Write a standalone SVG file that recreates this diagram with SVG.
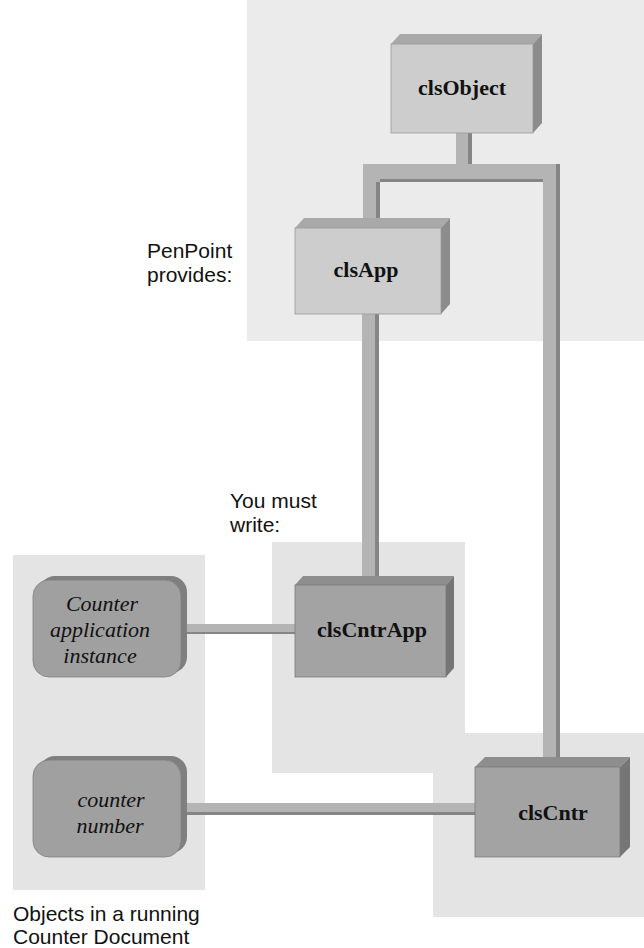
<svg xmlns="http://www.w3.org/2000/svg" width="644" height="948" viewBox="0 0 644 948">
<style>
.panel{fill:#e4e4e4}
.panelL{fill:#ebebeb}
.bar{fill:#b4b4b4}
.barD{fill:#858585}
.f1{fill:#cdcdcd;stroke:#9a9a9a;stroke-width:0.8}
.t1{fill:#a9a9a9}
.s1{fill:#8c8c8c}
.f2{fill:#a3a3a3;stroke:#7a7a7a;stroke-width:0.8}
.t2{fill:#8e8e8e}
.s2{fill:#767676}
.rb{fill:#7f7f7f}
.rf{fill:#a0a0a0;stroke:#808080;stroke-width:0.8}
.cls{font-family:"Liberation Serif",serif;font-weight:bold;font-size:22px;fill:#111;text-anchor:middle}
.it{font-family:"Liberation Serif",serif;font-style:italic;font-size:22px;fill:#111;text-anchor:middle}
.lab{font-family:"Liberation Sans",Arial,sans-serif;font-size:21px;fill:#111}
</style>
<rect width="644" height="948" fill="#ffffff"/>
<g id="panels">
<rect class="panelL" x="247" y="0" width="397" height="341"/>
<rect class="panel" x="272" y="542" width="193" height="231"/>
<rect class="panel" x="13" y="555" width="192" height="335"/>
<rect class="panel" x="433" y="733" width="211" height="184"/>
</g>
<g id="connectors">
<rect class="bar" x="456" y="130" width="16" height="36"/>
<rect class="barD" x="468" y="130" width="4" height="34"/>
<rect class="bar" x="363" y="164" width="197" height="18"/>
<rect class="barD" x="380" y="179" width="163" height="3"/>
<rect class="bar" x="363" y="164" width="17" height="60"/>
<rect class="barD" x="376" y="182" width="4" height="42"/>
<rect class="bar" x="543" y="164" width="17" height="600"/>
<rect class="barD" x="556" y="164" width="4" height="600"/>
<rect class="bar" x="362" y="310" width="17" height="270"/>
<rect class="barD" x="375" y="310" width="4" height="270"/>
<rect class="bar" x="180" y="624" width="118" height="10"/>
<rect class="barD" x="180" y="632" width="118" height="2"/>
<rect class="bar" x="180" y="803" width="298" height="12"/>
<rect class="barD" x="180" y="812" width="298" height="3"/>
</g>
<g id="clsObject">
<polygon class="t1" points="391,44 400,34 542,34 533,44"/>
<polygon class="s1" points="533,44 542,34 542,123 533,133"/>
<rect class="f1" x="391" y="44" width="142" height="89"/>
<text class="cls" x="462" y="95">clsObject</text>
</g>
<g id="clsApp">
<polygon class="t1" points="295,228 304,218 450,218 441,228"/>
<polygon class="s1" points="441,228 450,218 450,304 441,314"/>
<rect class="f1" x="295" y="228" width="146" height="86"/>
<text class="cls" x="366" y="277">clsApp</text>
</g>
<g id="clsCntrApp">
<polygon class="t2" points="295,585 303,576 454,576 446,585"/>
<polygon class="s2" points="446,585 454,576 454,668 446,677"/>
<rect class="f2" x="295" y="585" width="151" height="92"/>
<text class="cls" x="372" y="637">clsCntrApp</text>
</g>
<g id="clsCntr">
<polygon class="t2" points="475,767 485,757 630,757 620,767"/>
<polygon class="s2" points="620,767 630,757 630,847 620,857"/>
<rect class="f2" x="475" y="767" width="145" height="90"/>
<text class="cls" x="553" y="820">clsCntr</text>
</g>
<g id="instance">
<rect class="rb" x="39" y="576" width="148" height="97" rx="16"/>
<rect class="rf" x="33" y="580" width="148" height="97" rx="16"/>
<text class="it" x="102" y="611">Counter</text>
<text class="it" x="100" y="637">application</text>
<text class="it" x="100" y="663">instance</text>
</g>
<g id="number">
<rect class="rb" x="39" y="756" width="148" height="97" rx="16"/>
<rect class="rf" x="33" y="760" width="148" height="97" rx="16"/>
<text class="it" x="111" y="807">counter</text>
<text class="it" x="110" y="833">number</text>
</g>
<g id="labels">
<text class="lab" x="147" y="258">PenPoint</text>
<text class="lab" x="147" y="282">provides:</text>
<text class="lab" x="230" y="508">You must</text>
<text class="lab" x="230" y="532">write:</text>
<text class="lab" x="13" y="921">Objects in a running</text>
<text class="lab" x="13" y="944">Counter Document</text>
</g>
</svg>
